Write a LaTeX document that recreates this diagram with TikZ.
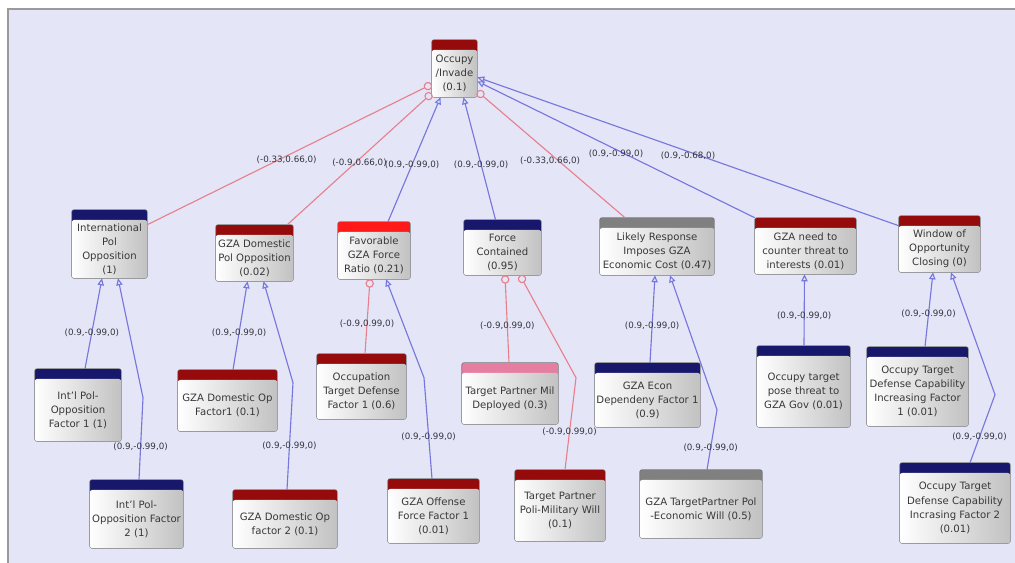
\documentclass[tikz,border=0pt]{standalone}
\usepackage{fontspec}
\setmainfont{DejaVu Sans}
\usepackage{tikz}
\usetikzlibrary{calc,arrows.meta}
\definecolor{bgcolor}{HTML}{E4E5F7}
\definecolor{framecolor}{HTML}{9A9A9A}
\definecolor{gzared}{HTML}{950A0A}
\definecolor{navyhd}{HTML}{17176B}
\definecolor{brightred}{HTML}{FF1A1A}
\definecolor{pinkhd}{HTML}{E67EA2}
\definecolor{grayhd}{HTML}{808080}
\definecolor{linkred}{HTML}{E8808C}
\definecolor{linkblue}{HTML}{7676DC}
\definecolor{lblcolor}{HTML}{34343E}
\colorlet{boxline}{black!55}
\newcommand{\pxu}{0.025cm}% one pixel of the screenshot
\newcommand{\boxfont}{\fontsize{7.2}{10}\selectfont}
\newcommand{\lblfont}{\fontsize{6.2}{7}\selectfont}
\tikzstyle{lbl}=[font=\lblfont, text=lblcolor, inner sep=1pt]
\tikzstyle{neglink}=[draw=linkred, line width=0.8pt, -{Circle[open,length=6pt]}]
\tikzstyle{poslink}=[draw=linkblue, line width=0.8pt, -{Triangle[open,length=5pt,width=4.5pt]}]
\tikzset{
  sz/.style 2 args={minimum width=#1*\pxu, minimum height=#2*\pxu},
  cpt/.style={
    rounded corners=1.5pt,
    left color=white, right color=black!24,
    align=center, inner xsep=0.5pt, inner ysep=1pt,
    font=\boxfont, text=black!78,
    append after command={
      \pgfextra{
        \fill[#1] ([yshift=-1pt]\tikzlastnode.north west) rectangle ([yshift=0.25cm]\tikzlastnode.north east);
        \draw[boxline, rounded corners=1.5pt] (\tikzlastnode.south west) rectangle ([yshift=0.25cm]\tikzlastnode.north east);
      }
    }
  }
}

\begin{document}
\begin{tikzpicture}[x=\pxu, y=-\pxu]
\useasboundingbox (0,0) rectangle (1015,563);
\fill[bgcolor] (8,9) rectangle (1015,563);
\draw[framecolor, line width=1.5pt] (8,563) -- (8,9) -- (1015,9);

% goal
\node[cpt=gzared, sz={45}{47}] (occ) at (454.5,73.5) {Occupy\\/Invade\\(0.1)};

% middle row
\node[cpt=navyhd, sz={75}{58}] (intl) at (109.5,249) {International\\Pol\\Opposition\\(1)};
\node[cpt=gzared, sz={77}{46}] (dompol) at (254.5,258) {GZA Domestic\\Pol Opposition\\(0.02)};
\node[cpt=brightred, sz={72}{47}] (favor) at (374,255.5) {Favorable\\GZA Force\\Ratio (0.21)};
\node[cpt=navyhd, sz={77}{45}] (forcec) at (502.5,252.5) {Force\\Contained\\(0.95)};
\node[cpt=grayhd, sz={114}{47}] (likely) at (657,251.5) {Likely Response\\Imposes GZA\\Economic Cost (0.47)};
\node[cpt=gzared, sz={101}{46}] (need) at (805.5,251) {GZA need to\\counter threat to\\interests (0.01)};
\node[cpt=gzared, sz={81}{46}] (window) at (939.5,249) {Window of\\Opportunity\\Closing (0)};

% factors
\node[cpt=navyhd, sz={86}{62}] (intlf1) at (78,410) {Int'l Pol-\\Opposition\\Factor 1 (1)};
\node[cpt=navyhd, sz={93}{58}] (intlf2) at (136.5,519) {Int'l Pol-\\Opposition Factor\\2 (1)};
\node[cpt=gzared, sz={99}{51}] (domf1) at (227.5,405.5) {GZA Domestic Op\\Factor1 (0.1)};
\node[cpt=gzared, sz={104}{48}] (domf2) at (285,524) {GZA Domestic Op\\factor 2 (0.1)};
\node[cpt=gzared, sz={89}{55}] (occdef) at (361.5,391.5) {Occupation\\Target Defense\\Factor 1 (0.6)};
\node[cpt=gzared, sz={91}{54}] (offense) at (433.5,516) {GZA Offense\\Force Factor 1\\(0.01)};
\node[cpt=pinkhd, sz={96}{51}] (tpmil) at (510,398.5) {Target Partner Mil\\Deployed (0.3)};
\node[cpt=gzared, sz={90}{61}] (tpwill) at (560,510.5) {Target Partner\\Poli-Military Will\\(0.1)};
\node[cpt=navyhd, sz={105}{54}] (econ) at (647.5,400) {GZA Econ\\Dependeny Factor 1\\(0.9)};
\node[cpt=grayhd, sz={122}{58}] (tppol) at (701,509) {GZA TargetPartner Pol\\-Economic Will (0.5)};
\node[cpt=navyhd, sz={93}{71}] (pose) at (803.5,391.5) {Occupy target\\pose threat to\\GZA Gov (0.01)};
\node[cpt=navyhd, sz={101}{69}] (otdc1) at (917.5,391.5) {Occupy Target\\Defense Capability\\Increasing Factor\\1 (0.01)};
\node[cpt=navyhd, sz={110}{70}] (otdc2) at (955,508) {Occupy Target\\Defense Capability\\Incrasing Factor 2\\(0.01)};

% links into the goal
\draw[neglink] ($(intl.north east)+(0,5)$) -- node[lbl, pos=.49, yshift=-3pt] {(-0.33,0.66,0)} ($(occ.south west)+(0,-13)$);
\draw[neglink] ($(dompol.north east)+(-6,-10)$) -- node[lbl, pos=.5, yshift=-3pt] {(-0.9,0.66,0)} ($(occ.south west)+(0,-4)$);
\draw[poslink] ($(favor.north)+(14,-10)$) -- node[lbl, pos=.46] {(0.9,-0.99,0)} ($(occ.south)+(-14,0)$);
\draw[poslink] ($(forcec.north)+(-7,-10)$) -- node[lbl, pos=.45] {(0.9,-0.99,0)} ($(occ.south)+(9,0)$);
\draw[neglink] ($(likely.north)+(-32,-10)$) -- node[lbl, pos=.45, xshift=-6pt] {(-0.33,0.66,0)} ($(occ.south east)+(0,-6)$);
\draw[poslink] ($(need.north west)+(0,-10)$) -- node[lbl, pos=.5, yshift=-3pt] {(0.9,-0.99,0)} ($(occ.south east)+(0,-16)$);
\draw[poslink] (window.north west) -- node[lbl, pos=.5, yshift=-3pt] {(0.9,-0.68,0)} ($(occ.south east)+(0,-20)$);

% links into the middle row
\draw[poslink] ($(intlf1.north)+(7,-10)$) -- node[lbl, pos=.4] {(0.9,-0.99,0)} ($(intl.south)+(-7.5,0)$);
\draw[poslink] ($(intlf2.north)+(2.5,-10)$) -- node[lbl, pos=.4] {(0.9,-0.99,0)} ++(4,-82) -- ($(intl.south)+(8.5,0)$);
\draw[poslink] ($(domf1.north)+(5.5,-10)$) -- node[lbl, pos=.42] {(0.9,-0.99,0)} ($(dompol.south)+(-7,0)$);
\draw[poslink] ($(domf2.north)+(2,-10)$) -- node[lbl, pos=.41] {(0.9,-0.99,0)} ++(6,-107) -- ($(dompol.south)+(9,0)$);
\draw[neglink] ($(occdef.north)+(3.5,-10)$) -- node[lbl, pos=.4] {(-0.9,0.99,0)} ($(favor.south)+(-4,0)$);
\draw[poslink] ($(offense.north)+(-1.5,-10)$) -- node[lbl, pos=.42] {(0.9,-0.99,0)} ++(-8,-101) -- ($(favor.south)+(12,0)$);
\draw[neglink] ($(tpmil.north)+(-1,-10)$) -- node[lbl, pos=.42] {(-0.9,0.99,0)} ($(forcec.south)+(2.5,0)$);
\draw[neglink] ($(tpwill.north)+(5,-10)$) -- node[lbl, pos=.41] {(-0.9,0.99,0)} ++(11,-92) -- ($(forcec.south)+(17.5,0)$);
\draw[poslink] ($(econ.north)+(2.5,-10)$) -- node[lbl, pos=.42] {(0.9,-0.99,0)} ($(likely.south)+(-2,0)$);
\draw[poslink] ($(tppol.north)+(6,-10)$) -- node[lbl, pos=.37] {(0.9,-0.99,0)} ++(10,-60) -- ($(likely.south)+(13,0)$);
\draw[poslink] ($(pose.north)+(0.5,-10)$) -- node[lbl, pos=.42] {(0.9,-0.99,0)} ($(need.south)+(-1,0)$);
\draw[poslink] ($(otdc1.north)+(7.5,-10)$) -- node[lbl, pos=.44] {(0.9,-0.99,0)} ($(window.south)+(-6.5,0)$);
\draw[poslink] ($(otdc2.north)+(15,-10)$) -- node[lbl, pos=.38] {(0.9,-0.99,0)} ++(25,-68) -- ($(window.south)+(11.5,0)$);
\end{tikzpicture}
\end{document}
